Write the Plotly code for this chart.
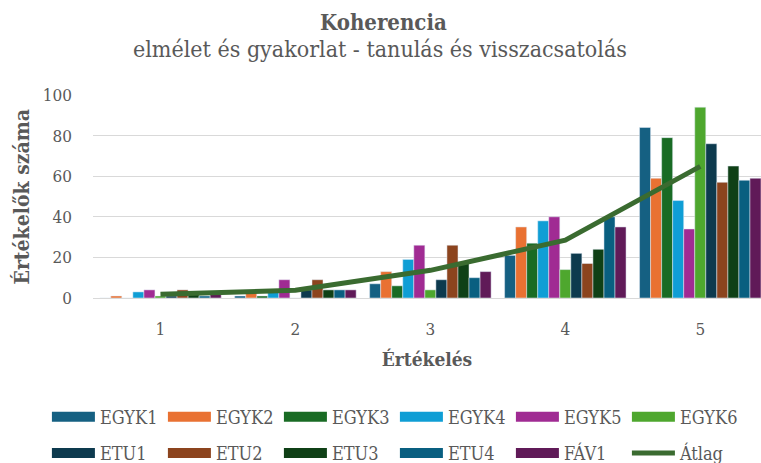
import plotly.graph_objects as go

# kategóriák (Értékelés 1..5)
categories = ["1", "2", "3", "4", "5"]

series_names = ["EGYK1", "EGYK2", "EGYK3", "EGYK4", "EGYK5", "EGYK6",
                "ETU1", "ETU2", "ETU3", "ETU4", "FÁV1"]

# értékelők száma kategóriánként
egyk1 = [0, 1, 7, 21, 84]
egyk2 = [1, 3, 13, 35, 59]
egyk3 = [0, 1, 6, 27, 79]
egyk4 = [3, 3, 19, 38, 48]
egyk5 = [4, 9, 26, 40, 34]
egyk6 = [1, 0, 4, 14, 94]
etu1 = [1, 4, 9, 22, 76]
etu2 = [4, 9, 26, 17, 57]
etu3 = [3, 4, 17, 24, 65]
etu4 = [1, 4, 10, 40, 58]
fav1 = [2, 4, 13, 35, 59]

series_values = [egyk1, egyk2, egyk3, egyk4, egyk5, egyk6,
                 etu1, etu2, etu3, etu4, fav1]

colors = ["#156082", "#E97132", "#196B24", "#0F9ED5", "#A02B93", "#4EA72E",
          "#0D3A4E", "#8C441E", "#0F4016", "#095F80", "#601A58"]

# átlag
atlag = [sum(v[i] for v in series_values) / len(series_values) for i in range(len(categories))]

FONT = "DejaVu Serif Condensed, Liberation Serif, serif"
GREY = "#595959"

fig = go.Figure()

for name, vals, col in zip(series_names, series_values, colors):
    fig.add_trace(go.Bar(x=categories, y=vals, name=name, marker_color=col,
                         showlegend=False))

fig.add_trace(go.Scatter(x=categories, y=atlag, mode="lines", name="Átlag",
                         line=dict(color="#3A6B30", width=5), showlegend=False))

# jelmagyarázat: két sor, két legend
for i, (name, col) in enumerate(zip(series_names, colors)):
    fig.add_trace(go.Scatter(x=[None], y=[None], mode="lines", name=name,
                             line=dict(color=col, width=10),
                             legend="legend" if i < 6 else "legend2"))
fig.add_trace(go.Scatter(x=[None], y=[None], mode="lines", name="Átlag",
                         line=dict(color="#3A6B30", width=5), legend="legend2"))

legend_common = dict(orientation="h", xanchor="left", yanchor="middle",
                     font=dict(family=FONT, size=18, color=GREY),
                     itemwidth=43, entrywidth=58, bgcolor="rgba(0,0,0,0)")

fig.update_layout(
    width=761, height=463,
    margin=dict(l=93, r=0, t=95, b=165, autoexpand=False),
    paper_bgcolor="white", plot_bgcolor="white",
    font=dict(family=FONT, color=GREY),
    barmode="group", bargap=0.1, bargroupgap=0,
    xaxis=dict(type="category", range=[-0.5, 4.45], showgrid=False,
               showline=True, linecolor="#D9D9D9", linewidth=1, automargin=False,
               tickfont=dict(size=17, color=GREY), ticklabelstandoff=16,
               title=dict(text="<b>Értékelés</b>", font=dict(size=19, color=GREY),
                          standoff=14)),
    yaxis=dict(range=[0, 100], dtick=20, showgrid=True, gridcolor="#D9D9D9",
               zeroline=False, tickfont=dict(size=17, color=GREY), automargin=False,
               ticklabelstandoff=20),
    legend=dict(x=-0.069, y=-0.586, **legend_common),
    legend2=dict(x=-0.069, y=-0.765, **legend_common),
    annotations=[
        dict(text="<b>Koherencia</b>", xref="paper", yref="paper", x=0.435, y=1.0,
             xanchor="center", yanchor="middle", showarrow=False,
             font=dict(size=22, color=GREY), yshift=73),
        dict(text="elmélet és gyakorlat - tanulás és visszacsatolás", xref="paper",
             yref="paper", x=0.43, y=1.0, xanchor="center", yanchor="middle",
             showarrow=False, font=dict(size=23, color=GREY), yshift=46),
        dict(text="<b>Értékelők száma</b>", xref="paper", yref="paper",
             x=-0.1063, y=0.5, xanchor="center", yanchor="middle", textangle=-90,
             showarrow=False, font=dict(size=21, color=GREY)),
    ],
)

fig.write_html("out.html", config={"displayModeBar": False},
               post_script="document.body.style.margin='0';")
